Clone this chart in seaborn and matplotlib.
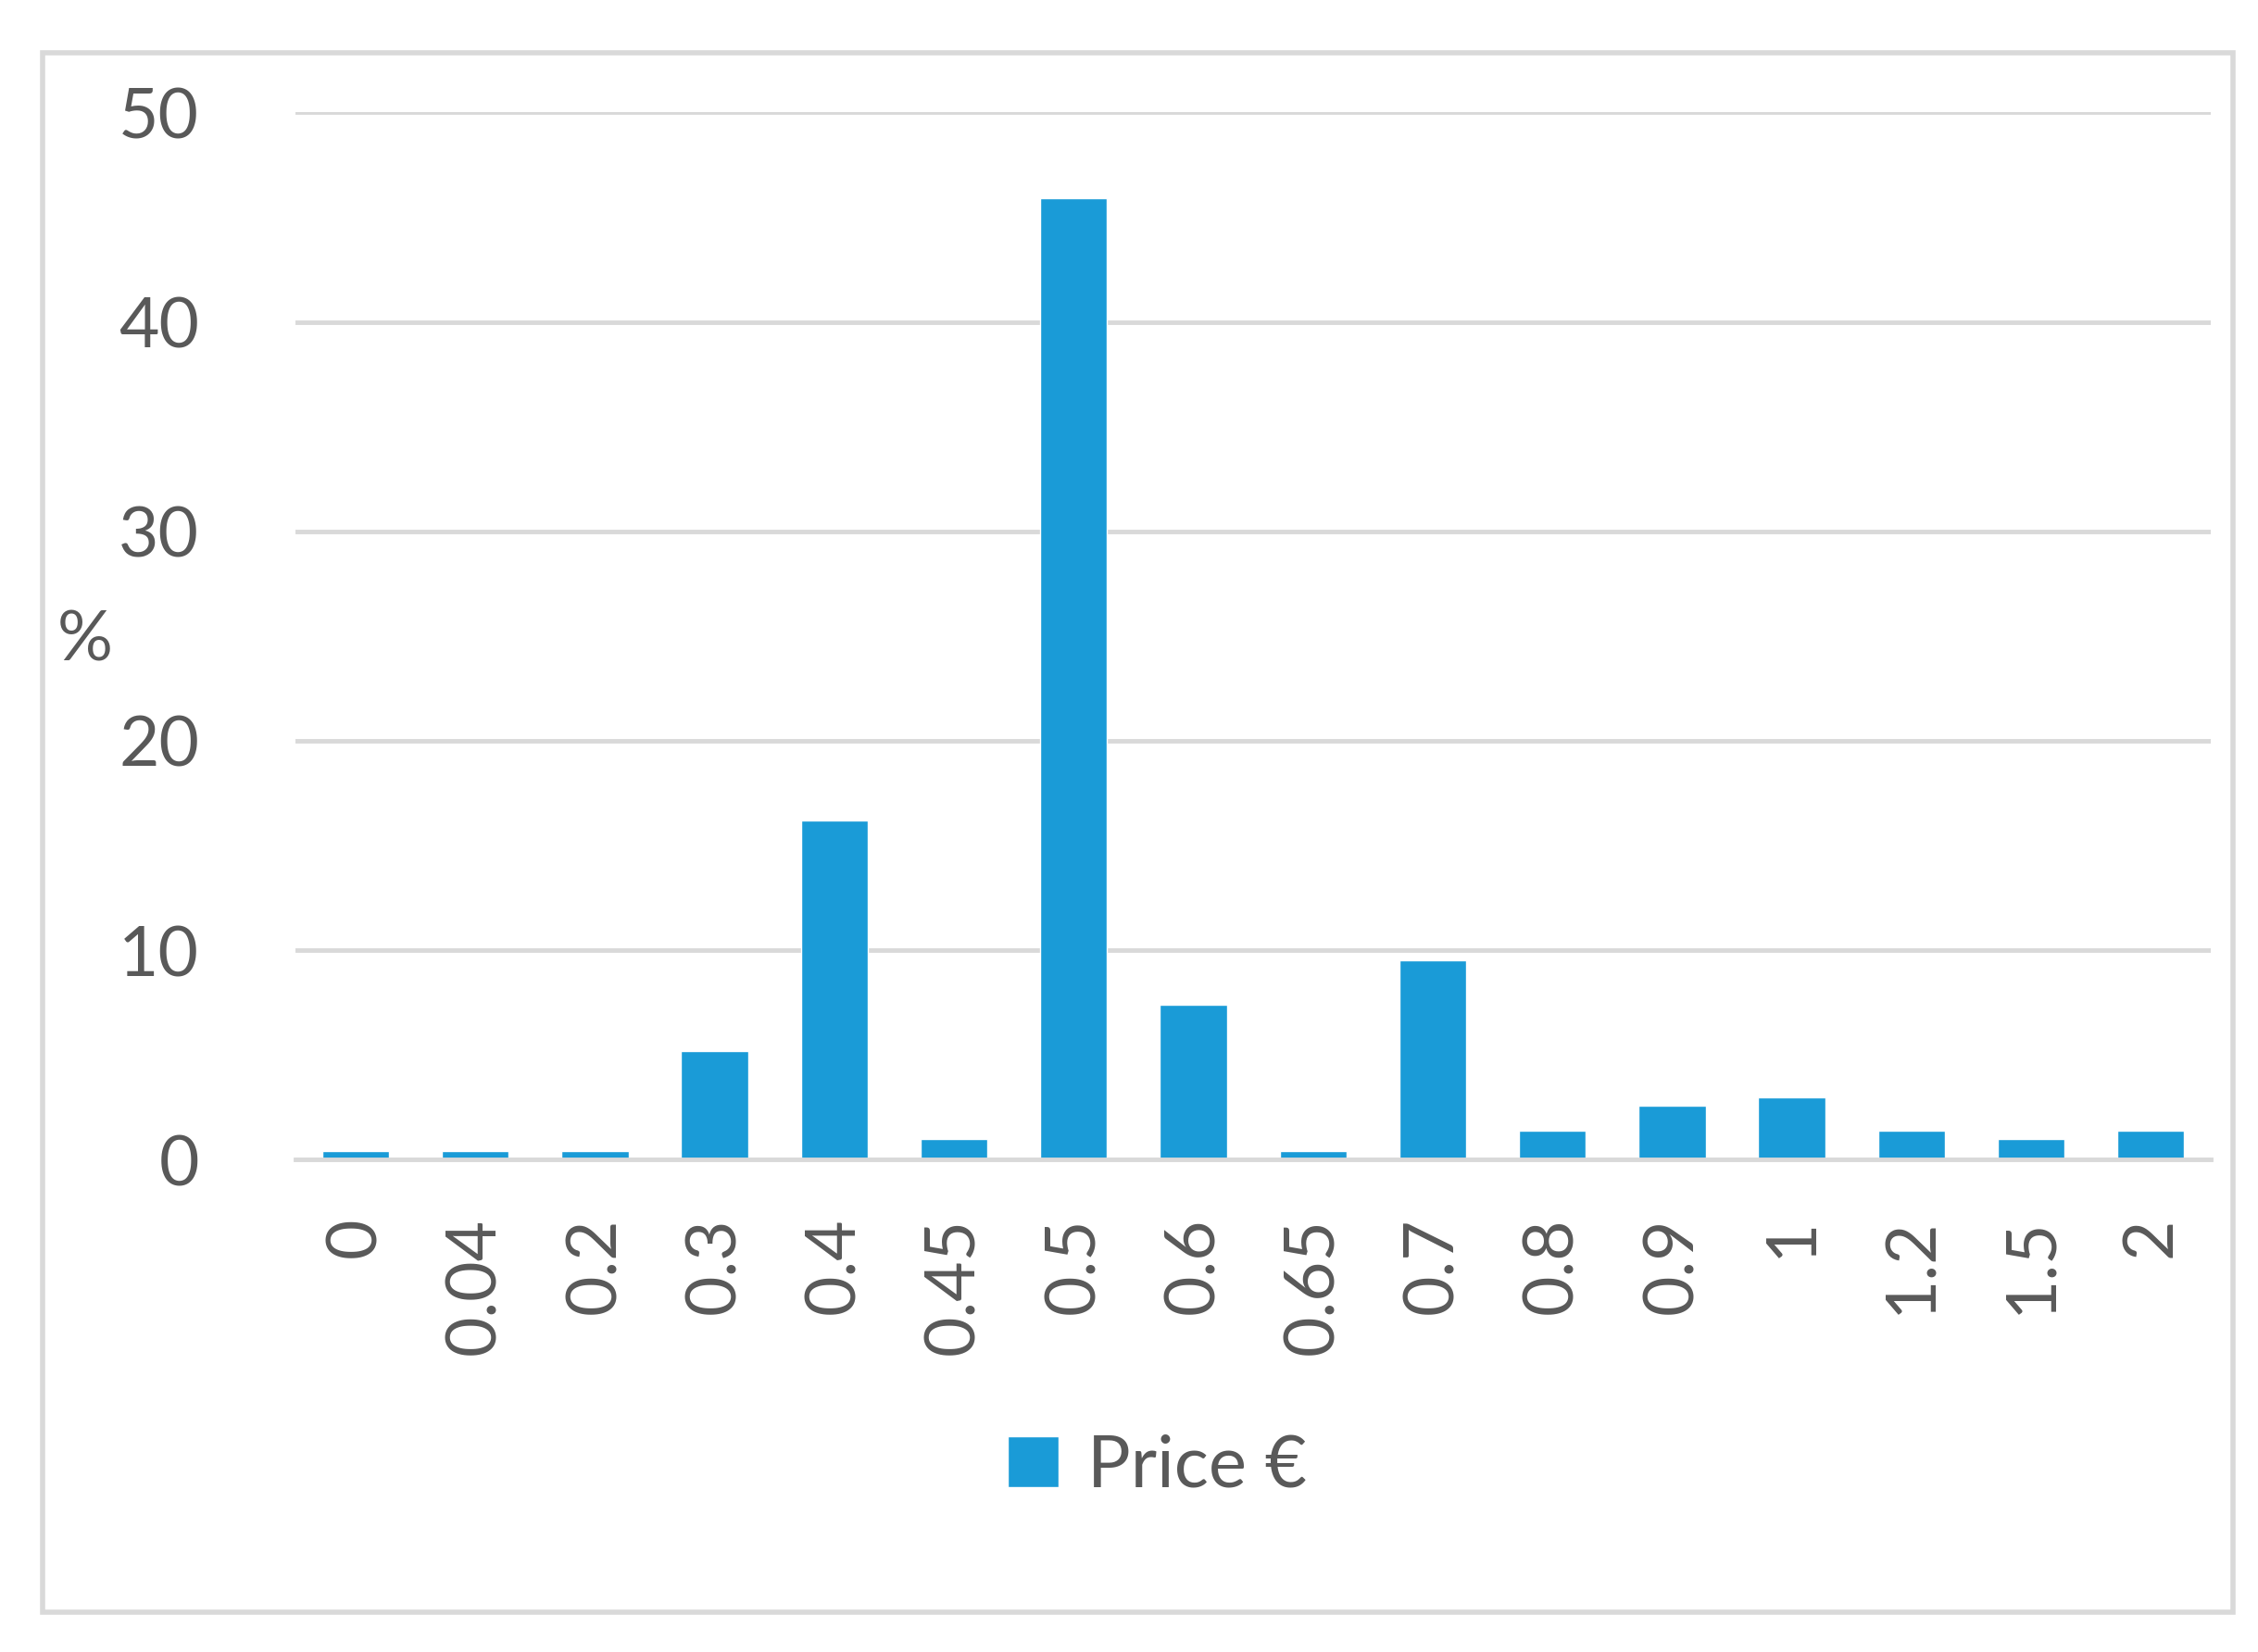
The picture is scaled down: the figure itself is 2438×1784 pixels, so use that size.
import matplotlib
matplotlib.use("Agg")
import matplotlib.pyplot as plt
from matplotlib.patches import Rectangle
import seaborn as sns
import pandas as pd

prices = ["0", "0.04", "0.2", "0.3", "0.4", "0.45", "0.5", "0.6", "0.65",
          "0.7", "0.8", "0.9", "1", "1.2", "1.5", "2"]
percent = [0.4, 0.4, 0.4, 5.2, 16.2, 1.0, 45.9, 7.4, 0.4,
           9.5, 1.4, 2.6, 3.0, 1.4, 1.0, 1.4]

df = pd.DataFrame({"price": prices, "percent": percent})

sns.set_theme(style="white")
plt.rcParams['font.family'] = ['Lato', 'DejaVu Sans']

bar_color = "#1a9bd7"
text_color = "#595959"

fig = plt.figure(figsize=(24.38, 17.84), dpi=100)
ax = fig.add_axes([0.131, 0.298, 0.848, 0.634])

sns.barplot(data=df, x="price", y="percent", color=bar_color, width=0.56,
            saturation=1, ax=ax, label="Price €")

ax.set_ylim(0, 50)
ax.set_xlim(-0.5, len(prices) - 0.5)
ax.set_yticks(range(0, 51, 10))
ax.yaxis.grid(True, color="#d9d9d9", linewidth=3.5)
ax.set_axisbelow(True)
for s in ["top", "right", "left"]:
    ax.spines[s].set_visible(False)
ax.spines["bottom"].set_color("#d9d9d9")
ax.spines["bottom"].set_linewidth(3.5)

ax.tick_params(axis="y", labelsize=54, labelcolor=text_color, length=0, pad=75)
ax.tick_params(axis="x", labelsize=54, labelcolor=text_color, length=0,
               rotation=90, pad=45)
ax.set_xlabel("")
ax.set_ylabel("%", fontsize=54, color=text_color, rotation=0, labelpad=60)
ax.yaxis.set_label_coords(-0.11, 0.465)

leg = ax.legend(loc="upper center", bbox_to_anchor=(0.45, -0.2), frameon=False,
                fontsize=56, handlelength=0.7, handleheight=0.7,
                handletextpad=0.4, labelcolor=text_color)

# outer chart border
fig.patches.append(Rectangle((0.019, 0.024), 0.970, 0.944, transform=fig.transFigure,
                             fill=False, edgecolor="#d9d9d9", linewidth=4))

fig.savefig("out.png", dpi=100)
